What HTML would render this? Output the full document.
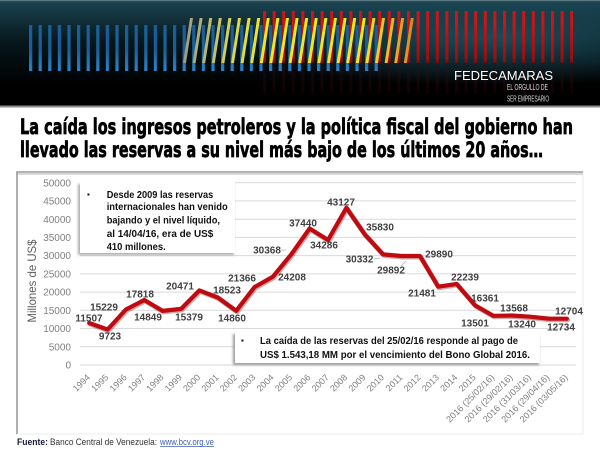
<!DOCTYPE html>
<html><head><meta charset="utf-8"><style>
html,body{margin:0;padding:0;background:#fff;}
svg{display:block;}
</style></head><body>
<svg width="600" height="450" viewBox="0 0 600 450" xmlns="http://www.w3.org/2000/svg">
<defs>
<linearGradient id="bgv" x1="0" y1="0" x2="0" y2="1">
<stop offset="0" stop-color="#1c4553"/><stop offset="0.4" stop-color="#06161b"/><stop offset="0.8" stop-color="#000"/>
</linearGradient>
<radialGradient id="bgr" cx="0.82" cy="0.35" r="0.45">
<stop offset="0" stop-color="#1b4d5c" stop-opacity="0.95"/><stop offset="1" stop-color="#1b4d5c" stop-opacity="0"/>
</radialGradient>
<linearGradient id="blue" x1="0" y1="25" x2="0" y2="71" gradientUnits="userSpaceOnUse">
<stop offset="0" stop-color="#1a5f9a"/><stop offset="0.5" stop-color="#2a88d2"/><stop offset="1" stop-color="#184f80"/>
</linearGradient>
<linearGradient id="red" x1="0" y1="11" x2="0" y2="63" gradientUnits="userSpaceOnUse">
<stop offset="0" stop-color="#d01414"/><stop offset="0.7" stop-color="#a00c0c"/><stop offset="1" stop-color="#400" stop-opacity="0.2"/>
</linearGradient>
<linearGradient id="ygrad" x1="183" y1="0" x2="414" y2="0" gradientUnits="userSpaceOnUse">
<stop offset="0" stop-color="#9a9a88"/><stop offset="0.2" stop-color="#d6d35a"/><stop offset="0.35" stop-color="#f3e81c"/><stop offset="0.78" stop-color="#f3e81c"/><stop offset="0.9" stop-color="#efb822"/><stop offset="1" stop-color="#e08022"/>
</linearGradient>
<pattern id="bpat" x="29" y="25" width="9.6" height="46" patternUnits="userSpaceOnUse">
<rect x="0" y="0" width="3.2" height="46" fill="url(#blue)"/>
</pattern>
<pattern id="rpat" x="263" y="11" width="9.6" height="52" patternUnits="userSpaceOnUse">
<rect x="0" y="0" width="3" height="52" fill="url(#red)"/>
</pattern>
<pattern id="rpat2" x="263" y="63" width="9.6" height="30" patternUnits="userSpaceOnUse">
<rect x="0" y="0" width="3" height="30" fill="#3a0a0a"/>
</pattern>
<filter id="sh" x="-10%" y="-10%" width="130%" height="140%"><feGaussianBlur stdDeviation="1.2"/></filter>
</defs>

<!-- header -->
<rect x="0" y="0" width="600" height="107" fill="url(#bgv)"/>
<rect x="0" y="0" width="600" height="107" fill="url(#bgr)"/>
<rect x="0" y="0" width="600" height="1.2" fill="#5b7880"/>
<rect x="29" y="25" width="349" height="46" fill="url(#bpat)"/>
<rect x="263" y="11" width="310" height="52" fill="url(#rpat)"/>
<rect x="263" y="63" width="310" height="30" fill="url(#rpat2)" opacity="0.3"/>
<path fill="url(#ygrad)" d="M183 63h3l7-45h-3zM192.6 63h3l7-45h-3zM202.2 63h3l7-45h-3zM211.8 63h3l7-45h-3zM221.4 63h3l7-45h-3zM231 63h3l7-45h-3zM240.6 63h3l7-45h-3zM250.2 63h3l7-45h-3zM259.8 63h3l7-45h-3zM269.4 63h3l7-45h-3zM279 63h3l7-45h-3zM288.6 63h3l7-45h-3zM298.2 63h3l7-45h-3zM307.8 63h3l7-45h-3zM317.4 63h3l7-45h-3zM327 63h3l7-45h-3zM336.6 63h3l7-45h-3zM346.2 63h3l7-45h-3zM355.8 63h3l7-45h-3zM365.4 63h3l7-45h-3zM375 63h3l7-45h-3zM384.6 63h3l7-45h-3zM394.2 63h3l7-45h-3zM403.8 63h3l7-45h-3z"/>
<rect x="0" y="105.5" width="600" height="2" fill="#8a8a8a"/>
<text x="454" y="80" font-family="Liberation Sans, sans-serif" font-size="13" fill="#fff" textLength="99" lengthAdjust="spacingAndGlyphs">FEDECAMARAS</text>
<text x="507" y="90" font-family="Liberation Sans, sans-serif" font-size="8.5" fill="#ddd" textLength="41" lengthAdjust="spacingAndGlyphs">EL ORGULLO DE</text>
<text x="507" y="101.5" font-family="Liberation Sans, sans-serif" font-size="8.5" fill="#ddd" textLength="42" lengthAdjust="spacingAndGlyphs">SER EMPRESARIO</text>

<!-- title -->
<g font-family="DejaVu Sans, Liberation Sans, sans-serif" font-weight="bold" font-size="21" fill="#000" stroke="#000" stroke-width="0.7">
<text x="20" y="134" textLength="553" lengthAdjust="spacingAndGlyphs">La caída los ingresos petroleros y la política fiscal del gobierno han</text>
<text x="20" y="157" textLength="523" lengthAdjust="spacingAndGlyphs">llevado las reservas a su nivel más bajo de los últimos 20 años…</text>
</g>

<!-- chart box -->
<rect x="17" y="172" width="566" height="262" fill="#fff" stroke="#ececec" stroke-width="1"/>
<polyline points="17,434 17,172 583,172" fill="none" stroke="#9a9a9a" stroke-width="1.6"/>
<rect x="18" y="173" width="565" height="2" fill="#d8d8d8"/>

<!-- gridlines -->
<g stroke="#dadada" stroke-width="1">
<line x1="80" x2="576" y1="182.7" y2="182.7"/>
<line x1="80" x2="576" y1="200.9" y2="200.9"/>
<line x1="80" x2="576" y1="219.2" y2="219.2"/>
<line x1="80" x2="576" y1="237.4" y2="237.4"/>
<line x1="80" x2="576" y1="255.6" y2="255.6"/>
<line x1="80" x2="576" y1="273.9" y2="273.9"/>
<line x1="80" x2="576" y1="292.1" y2="292.1"/>
<line x1="80" x2="576" y1="310.3" y2="310.3"/>
<line x1="80" x2="576" y1="328.5" y2="328.5"/>
<line x1="80" x2="576" y1="346.8" y2="346.8"/>
<line x1="80" x2="576" y1="365" y2="365"/>
</g>

<!-- y labels -->
<g font-family="Liberation Sans, sans-serif" font-size="10" fill="#808080" text-anchor="end">
<text x="71" y="186.3">50000</text>
<text x="71" y="204.5">45000</text>
<text x="71" y="222.8">40000</text>
<text x="71" y="241">35000</text>
<text x="71" y="259.2">30000</text>
<text x="71" y="277.5">25000</text>
<text x="71" y="295.7">20000</text>
<text x="71" y="313.9">15000</text>
<text x="71" y="332.1">10000</text>
<text x="71" y="350.4">5000</text>
<text x="71" y="368.6">0</text>
</g>
<text transform="translate(36,281) rotate(-90)" text-anchor="middle" font-family="Liberation Sans, sans-serif" font-size="12" fill="#606060" textLength="83" lengthAdjust="spacingAndGlyphs">Millones de US$</text>

<!-- x labels -->
<g font-family="Liberation Sans, sans-serif" font-size="9" fill="#7f7f7f" text-anchor="end">
<text transform="translate(90.7,378) rotate(-45)">1994</text>
<text transform="translate(109.07,378) rotate(-45)">1995</text>
<text transform="translate(127.44,378) rotate(-45)">1996</text>
<text transform="translate(145.81,378) rotate(-45)">1997</text>
<text transform="translate(164.18,378) rotate(-45)">1998</text>
<text transform="translate(182.55,378) rotate(-45)">1999</text>
<text transform="translate(200.92,378) rotate(-45)">2000</text>
<text transform="translate(219.29,378) rotate(-45)">2001</text>
<text transform="translate(237.66,378) rotate(-45)">2002</text>
<text transform="translate(256.03,378) rotate(-45)">2003</text>
<text transform="translate(274.4,378) rotate(-45)">2004</text>
<text transform="translate(292.77,378) rotate(-45)">2005</text>
<text transform="translate(311.14,378) rotate(-45)">2006</text>
<text transform="translate(329.51,378) rotate(-45)">2007</text>
<text transform="translate(347.88,378) rotate(-45)">2008</text>
<text transform="translate(366.25,378) rotate(-45)">2009</text>
<text transform="translate(384.62,378) rotate(-45)">2010</text>
<text transform="translate(402.99,378) rotate(-45)">2011</text>
<text transform="translate(421.36,378) rotate(-45)">2012</text>
<text transform="translate(439.73,378) rotate(-45)">2013</text>
<text transform="translate(458.1,378) rotate(-45)">2014</text>
<text transform="translate(476.47,378) rotate(-45)">2015</text>
<text transform="translate(494.84,378) rotate(-45)">2016 (25/02/16)</text>
<text transform="translate(513.21,378) rotate(-45)">2016 (29/02/16)</text>
<text transform="translate(531.58,378) rotate(-45)">2016 (31/03/16)</text>
<text transform="translate(549.95,378) rotate(-45)">2016 (29/04/16)</text>
<text transform="translate(568.32,378) rotate(-45)">2016 (03/05/16)</text>
</g>

<!-- text box 1 -->
<rect x="78" y="184" width="156" height="71" fill="#999" filter="url(#sh)" opacity="0.8"/>
<rect x="80" y="182" width="155" height="71" fill="#fff"/>
<g font-family="Liberation Sans, sans-serif" font-weight="bold" font-size="10.5" fill="#111">
<text x="87" y="197" font-size="8">▪</text>
<text x="106.7" y="198" textLength="106.6" lengthAdjust="spacingAndGlyphs">Desde 2009 las reservas</text>
<text x="106.7" y="210" textLength="121" lengthAdjust="spacingAndGlyphs">internacionales  han venido</text>
<text x="106.7" y="223.3" textLength="113.3" lengthAdjust="spacingAndGlyphs">bajando  y el nivel líquido,</text>
<text x="106.7" y="237" textLength="106.6" lengthAdjust="spacingAndGlyphs">al 14/04/16, era de US$</text>
<text x="106.7" y="250" textLength="59" lengthAdjust="spacingAndGlyphs">410 millones.</text>
</g>

<!-- text box 2 -->
<rect x="233" y="334" width="306" height="31" fill="#888" filter="url(#sh)" opacity="0.85"/>
<rect x="235" y="332" width="305" height="31" fill="#fff"/>
<g font-family="Liberation Sans, sans-serif" font-weight="bold" font-size="10.5" fill="#111">
<text x="241" y="343" font-size="8">▪</text>
<text x="260" y="344" textLength="258" lengthAdjust="spacingAndGlyphs">La caída de las reservas del 25/02/16 responde al pago de</text>
<text x="260" y="358" textLength="270" lengthAdjust="spacingAndGlyphs">US$ 1.543,18 MM por el vencimiento del Bono Global  2016.</text>
</g>

<!-- leader lines -->
<g stroke="#b0b0b0" stroke-width="0.8">
<line x1="281" y1="250" x2="286" y2="250"/>
<line x1="374" y1="259" x2="380" y2="258"/>
<line x1="401" y1="266" x2="406" y2="261"/>
</g>

<!-- series -->
<polyline fill="none" stroke="#7a0000" stroke-opacity="0.35" stroke-width="5" stroke-linejoin="round" stroke-linecap="round" transform="translate(0.8,1)"
points="89.2,323.0 107.6,329.5 125.9,309.5 144.3,300.0 162.7,310.9 181.1,308.9 199.4,290.4 217.8,297.5 236.2,310.8 254.5,287.1 272.9,276.7 291.3,254.3 309.6,228.5 328.0,240.0 346.4,207.8 364.8,234.4 383.1,254.4 401.5,256.0 419.9,256.0 438.2,286.7 456.6,283.9 475.0,305.3 493.3,315.8 511.7,315.5 530.1,316.7 548.4,318.6 566.8,318.7"/>
<polyline fill="none" stroke="#c00a12" stroke-width="4.2" stroke-linejoin="round" stroke-linecap="round"
points="89.2,323.0 107.6,329.5 125.9,309.5 144.3,300.0 162.7,310.9 181.1,308.9 199.4,290.4 217.8,297.5 236.2,310.8 254.5,287.1 272.9,276.7 291.3,254.3 309.6,228.5 328.0,240.0 346.4,207.8 364.8,234.4 383.1,254.4 401.5,256.0 419.9,256.0 438.2,286.7 456.6,283.9 475.0,305.3 493.3,315.8 511.7,315.5 530.1,316.7 548.4,318.6 566.8,318.7"/>

<!-- data labels -->
<g font-family="Liberation Sans, sans-serif" font-weight="bold" font-size="10" fill="#404040" text-anchor="middle">
<text x="89" y="321.6">11507</text>
<text x="110" y="339.6">9723</text>
<text x="104" y="310.6">15229</text>
<text x="140" y="297.6">17818</text>
<text x="148" y="320.6">14849</text>
<text x="189" y="320.6">15379</text>
<text x="180" y="289.6">20471</text>
<text x="227" y="293.6">18523</text>
<text x="232" y="321.6">14860</text>
<text x="242" y="281.6">21366</text>
<text x="292" y="280.6">24208</text>
<text x="267" y="253.6">30368</text>
<text x="303" y="226.6">37440</text>
<text x="324" y="248.6">34286</text>
<text x="341" y="205.6">43127</text>
<text x="380" y="230.6">35830</text>
<text x="359.5" y="262.6">30332</text>
<text x="391" y="273.6">29892</text>
<text x="439" y="257.6">29890</text>
<text x="422" y="296.6">21481</text>
<text x="465" y="280.6">22239</text>
<text x="485" y="301.6">16361</text>
<text x="475" y="326.6">13501</text>
<text x="514" y="311.6">13568</text>
<text x="522" y="327.6">13240</text>
<text x="561" y="330.6">12734</text>
<text x="569" y="314.6">12704</text>
</g>

<!-- footer -->
<g font-family="Liberation Sans, sans-serif" font-size="9">
<text x="17" y="445" font-weight="bold" fill="#1a1a3a" textLength="31" lengthAdjust="spacingAndGlyphs">Fuente:</text>
<text x="50" y="445" fill="#333" textLength="107" lengthAdjust="spacingAndGlyphs">Banco Central de Venezuela:</text>
<text x="160" y="445" fill="#4060b0" textLength="54" lengthAdjust="spacingAndGlyphs">www.bcv.org.ve</text>
<line x1="160" y1="446.5" x2="214" y2="446.5" stroke="#4060b0" stroke-width="0.7"/>
</g>
</svg>
</body></html>
